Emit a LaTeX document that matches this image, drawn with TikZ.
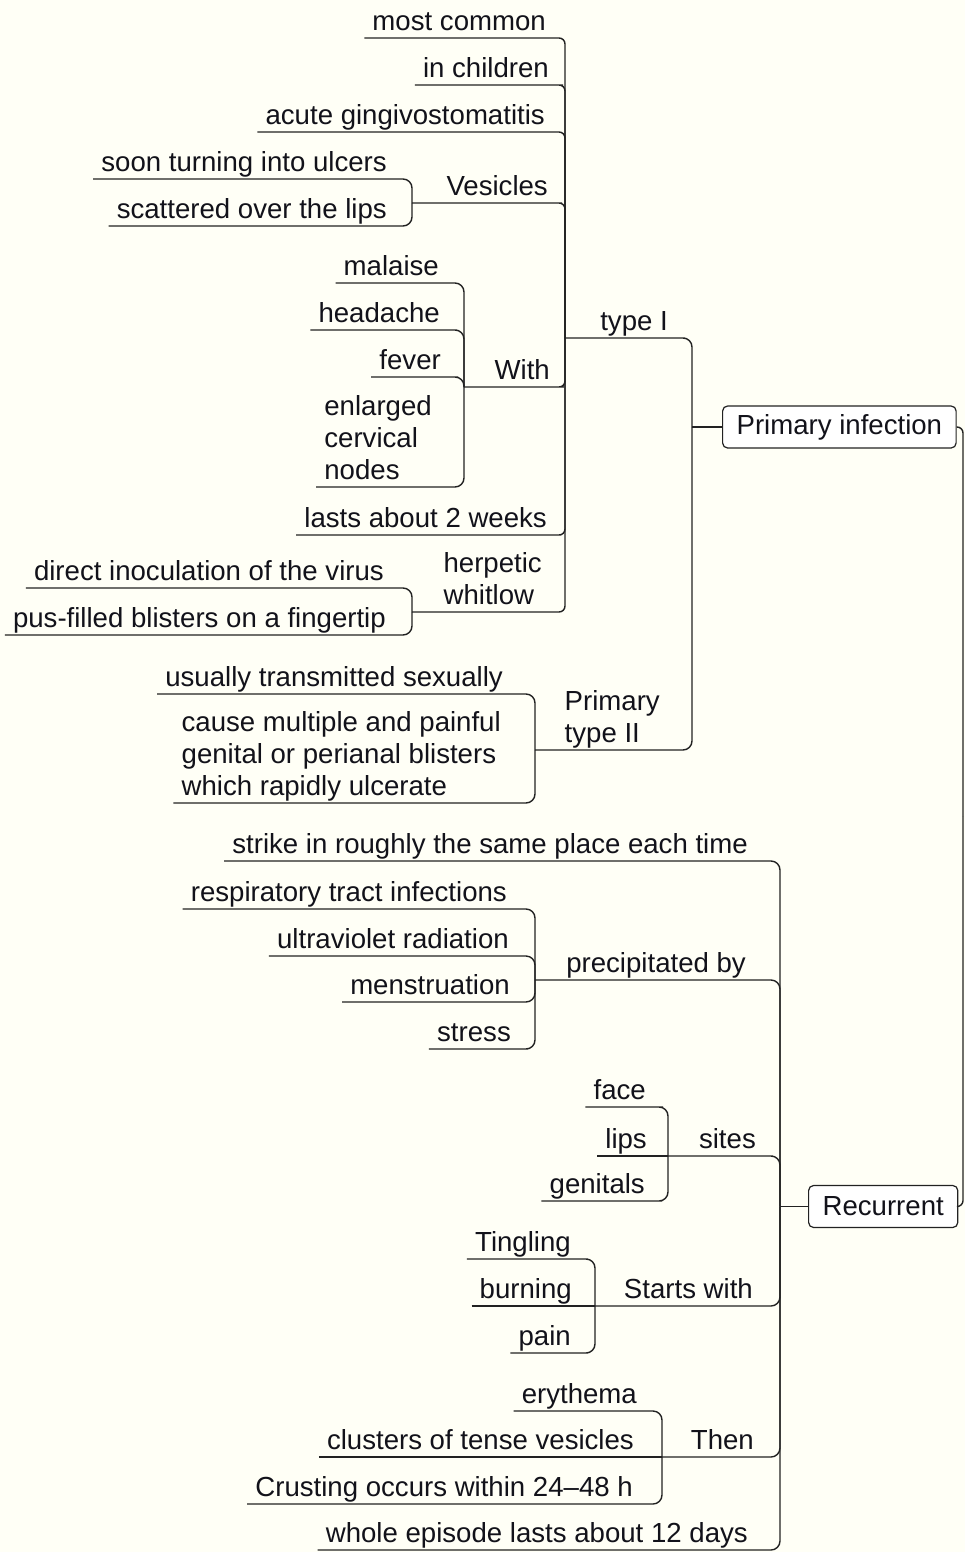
\documentclass[tikz,border=0pt]{standalone}
\usepackage{fontspec}
\setmainfont{Liberation Sans}
\begin{document}
\definecolor{paper}{RGB}{255,255,246}
\definecolor{ink}{RGB}{18,18,26}
\definecolor{wire}{RGB}{34,34,34}
\begin{tikzpicture}[x=1pt,y=-1pt,
  font=\fontsize{27.6}{31.7}\selectfont,
  topic/.style={anchor=south east, inner xsep=8pt, inner ysep=0pt,
    text depth=7.5pt, align=left, text=ink},
  mainbox/.style={anchor=west, draw=wire, fill=white, line width=1.2pt,
    rounded corners=5pt, inner xsep=14pt, minimum height=42pt, text=ink},
  link/.style={draw=wire, line width=1.4pt, rounded corners=6pt},
  brace/.style={draw=wire, line width=1.4pt, rounded corners=9pt}]

\useasboundingbox (0,0) rectangle (965,1552);
\fill[paper] (0,0) rectangle (965,1552);

% junction points where branches meet
\coordinate (root) at (963,816);
\coordinate (pJ)  at (692,427);
\coordinate (t1J) at (565,338);
\coordinate (vJ)  at (412,203);
\coordinate (wJ)  at (464,387);
\coordinate (hJ)  at (412,612);
\coordinate (p2J) at (535,750);
\coordinate (rJ)  at (780,1206.5);
\coordinate (prJ) at (535,980);
\coordinate (siJ) at (668,1156);
\coordinate (stJ) at (595,1306);
\coordinate (thJ) at (662,1457);

% main topics
\node[mainbox] (prim) at (722,427) {Primary infection};
\node[mainbox] (rec)  at (808,1206.5) {Recurrent};

% primary infection branch
\node[topic] (t1)  at (676,338) {type I};
\node[topic] (t2)  at (668,750) {Primary\\type II};

\node[topic] (mc)  at (554,38)  {most common};
\node[topic] (ic)  at (557,85)  {in children};
\node[topic] (ag)  at (553,132) {acute gingivostomatitis};
\node[topic] (ves) at (556,203) {Vesicles};
\node[topic] (wth) at (558,387) {With};
\node[topic] (la2) at (555,535) {lasts about 2 weeks};
\node[topic] (hw)  at (550,612) {herpetic\\whitlow};

\node[topic] (stu) at (395,179) {soon turning into ulcers};
\node[topic] (sol) at (395,226) {scattered over the lips};

\node[topic] (mal) at (447,283) {malaise};
\node[topic] (hea) at (448,330) {headache};
\node[topic] (fev) at (449,377) {fever};
\node[topic] (enl) at (440,487) {enlarged\\cervical\\nodes};

\node[topic] (dio) at (392,588) {direct inoculation of the virus};
\node[topic] (pfb) at (394,635) {pus-filled blisters on a fingertip};

\node[topic] (uts) at (511,694) {usually transmitted sexually};
\node[topic] (cmp) at (509,803) {cause multiple and painful\\genital or perianal blisters\\which rapidly ulcerate};

% recurrent branch
\node[topic] (stk) at (756,861)  {strike in roughly the same place each time};
\node[topic] (prc) at (754,980)  {precipitated by};
\node[topic] (sit) at (764,1156) {sites};
\node[topic] (stw) at (761,1306) {Starts with};
\node[topic] (thn) at (762,1457) {Then};
\node[topic] (who) at (756,1550) {whole episode lasts about 12 days};

\node[topic] (rti) at (515,909)  {respiratory tract infections};
\node[topic] (uvr) at (517,956)  {ultraviolet radiation};
\node[topic] (men) at (518,1002) {menstruation};
\node[topic] (str) at (519,1049) {stress};

\node[topic] (fac) at (654,1107) {face};
\node[topic] (lip) at (655,1156) {lips};
\node[topic] (gen) at (653,1201) {genitals};

\node[topic] (tin) at (579,1259) {Tingling};
\node[topic] (brn) at (580,1306) {burning};
\node[topic] (pai) at (579,1353) {pain};

\node[topic] (ery) at (645,1411) {erythema};
\node[topic] (clu) at (642,1457) {clusters of tense vesicles};
\node[topic] (cru) at (641,1504) {Crusting occurs within 24–48 h};

% outer bracket joining the two main topics
\draw[link] (prim.east) -| (root);
\draw[link] (rec.east) -| (root);

% main topics to their junctions
\draw[link] (pJ) -- (prim.west);
\draw[link] (rJ) -- (rec.west);

% type I and type II
\draw[brace] (t1J) -- (t1.south east) -| (pJ);
\draw[brace] (p2J) -- (t2.south east) -| (pJ);

% children of type I
\draw[link] (mc.south west) -- (mc.south east) -| (t1J);
\draw[link] (ic.south west) -- (ic.south east) -| (t1J);
\draw[link] (ag.south west) -- (ag.south east) -| (t1J);
\draw[link] (vJ) -- (ves.south east) -| (t1J);
\draw[link] (wJ) -- (wth.south east) -| (t1J);
\draw[link] (la2.south west) -- (la2.south east) -| (t1J);
\draw[link] (hJ) -- (hw.south east) -| (t1J);

% vesicles
\draw[brace] (stu.south west) -- (stu.south east) -| (vJ);
\draw[brace] (sol.south west) -- (sol.south east) -| (vJ);

% with
\draw[brace] (mal.south west) -- (mal.south east) -| (wJ);
\draw[brace] (hea.south west) -- (hea.south east) -| (wJ);
\draw[brace] (fev.south west) -- (fev.south east) -| (wJ);
\draw[brace] (enl.south west) -- (enl.south east) -| (wJ);

% herpetic whitlow
\draw[brace] (dio.south west) -- (dio.south east) -| (hJ);
\draw[brace] (pfb.south west) -- (pfb.south east) -| (hJ);

% type II
\draw[brace] (uts.south west) -- (uts.south east) -| (p2J);
\draw[brace] (cmp.south west) -- (cmp.south east) -| (p2J);

% children of recurrent
\draw[brace] (stk.south west) -- (stk.south east) -| (rJ);
\draw[brace] (prJ) -- (prc.south east) -| (rJ);
\draw[brace] (siJ) -- (sit.south east) -| (rJ);
\draw[brace] (stJ) -- (stw.south east) -| (rJ);
\draw[brace] (thJ) -- (thn.south east) -| (rJ);
\draw[brace] (who.south west) -- (who.south east) -| (rJ);

% precipitated by
\draw[brace] (rti.south west) -- (rti.south east) -| (prJ);
\draw[brace] (uvr.south west) -- (uvr.south east) -| (prJ);
\draw[brace] (men.south west) -- (men.south east) -| (prJ);
\draw[brace] (str.south west) -- (str.south east) -| (prJ);

% sites
\draw[brace] (fac.south west) -- (fac.south east) -| (siJ);
\draw[brace] (lip.south west) -- (siJ);
\draw[brace] (gen.south west) -- (gen.south east) -| (siJ);

% starts with
\draw[brace] (tin.south west) -- (tin.south east) -| (stJ);
\draw[brace] (brn.south west) -- (stJ);
\draw[brace] (pai.south west) -- (pai.south east) -| (stJ);

% then
\draw[brace] (ery.south west) -- (ery.south east) -| (thJ);
\draw[brace] (clu.south west) -- (thJ);
\draw[brace] (cru.south west) -- (cru.south east) -| (thJ);

\end{tikzpicture}
\end{document}
